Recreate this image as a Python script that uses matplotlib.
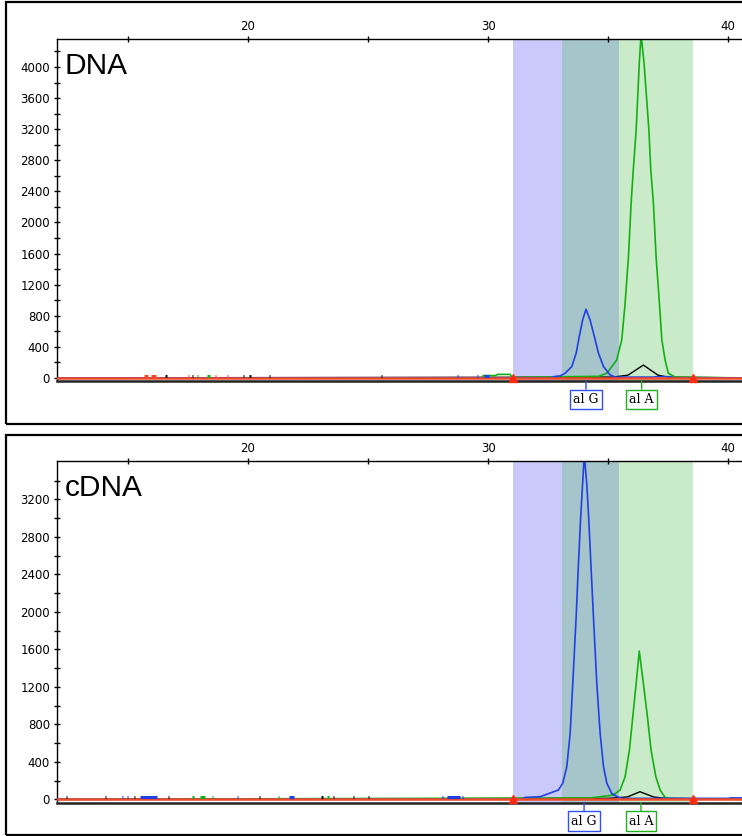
import matplotlib
matplotlib.use("Agg")
import matplotlib.pyplot as plt
from matplotlib.patches import Rectangle
from matplotlib.ticker import MultipleLocator, FixedLocator

# ---------------- data ----------------
panel_titles = ["DNA", "cDNA"]
x_major = [20, 30, 40]
x_minor = [15, 25, 35]
xlim = (12.04, 40.58)
ylims = [(-40, 4360), (-36, 3610)]
y_major_max = [4000, 3200]
y_minor_max = [4200, 3400]

# bins (allele windows)
bin_G = (31.04, 35.46)
bin_A = (33.08, 38.54)

# DNA panel traces
dna_blue_x = [12.04, 32.6, 32.8, 33.0, 33.21, 33.49, 33.67, 33.80, 33.94, 34.08,
              34.25, 34.43, 34.60, 34.81, 35.08, 35.3, 36.9, 37.0, 37.6, 37.7, 40.58]
dna_blue_y = [0, 0, 20, 25, 60, 146, 317, 531, 746, 883,
              746, 531, 317, 146, 39, 10, 10, 15, 15, 0, 0]
dna_green_x = [12.04, 29.75, 29.8, 30.3, 30.4, 30.92, 31.0, 33.3, 34.6, 34.95, 35.36,
               35.57, 35.71, 35.85, 35.96, 36.05, 36.17, 36.30, 36.375, 36.50,
               36.70, 36.78, 36.89, 37.0, 37.14, 37.24, 37.375, 37.51, 37.8, 40.58]
dna_green_y = [0, 0, 30, 30, 45, 45, 5, 15, 20, 60, 231,
               489, 960, 1561, 2247, 2675, 3190, 4048, 4420, 4048,
               3190, 2675, 2247, 1561, 960, 489, 231, 60, 10, 0]
dna_black_x = [12.04, 35.2, 35.83, 36.47, 37.08, 37.5, 40.58]
dna_black_y = [0, 10, 35, 165, 35, 10, 0]

# cDNA panel traces
cdna_blue_x = [12.04, 31.4, 31.54, 32.17, 32.93, 33.11, 33.28, 33.42, 33.53, 33.67,
               33.76, 33.86, 33.94, 34.01, 34.11, 34.19, 34.29, 34.39, 34.53,
               34.67, 34.81, 34.95, 35.15, 35.4, 35.6, 40.0, 40.1, 40.58]
cdna_blue_y = [0, 0, 20, 28, 99, 171, 348, 704, 1237, 1948,
               2481, 3015, 3371, 3680, 3371, 3015, 2481, 1948, 1237,
               704, 348, 171, 64, 25, 10, 10, 15, 15]
cdna_green_x = [12.04, 34.3, 35.22, 35.5, 35.71, 35.89, 36.03, 36.17, 36.30, 36.47,
                36.64, 36.79, 36.99, 37.17, 37.375, 37.6, 40.58]
cdna_green_y = [0, 15, 46, 99, 241, 526, 881, 1237, 1582, 1237,
                881, 526, 241, 99, 20, 10, 0]
cdna_black_x = [12.04, 35.0, 35.8, 36.33, 36.9, 37.4, 40.58]
cdna_black_y = [0, 10, 25, 81, 25, 10, 0]

# small baseline blips (start, end, colour)
dna_blip_start = [15.65, 15.95, 16.55, 17.48, 17.65, 17.86, 18.30, 18.61, 19.11, 19.77,
                  20.06, 20.86, 25.53, 28.69, 29.52, 29.85]
dna_blip_end = [15.85, 16.15, 16.62, 17.53, 17.70, 17.91, 18.42, 18.66, 19.16, 19.82,
                20.12, 20.91, 25.6, 28.76, 29.58, 30.05]
dna_blip_color = ["red", "red", "black", "red", "black", "green", "green", "red", "red", "black",
                  "black", "black", "black", "blue", "blue", "blue"]

cdna_blip_start = [12.40, 14.02, 14.73, 14.94, 15.23, 15.50, 16.65, 17.68, 18.0, 18.48,
                   19.52, 20.44, 21.23, 21.70, 23.06, 23.31, 23.52, 24.36, 24.98,
                   28.06, 28.30, 28.90]
cdna_blip_end = [12.46, 14.08, 14.79, 15.00, 15.29, 16.20, 16.71, 17.74, 18.2, 18.54,
                 19.58, 20.50, 21.29, 21.90, 23.12, 23.37, 23.58, 24.42, 25.04,
                 28.12, 28.83, 28.96]
cdna_blip_color = ["black", "black", "blue", "blue", "black", "blue", "black", "green", "green", "green",
                   "blue", "black", "green", "blue", "black", "green", "black", "black", "black",
                   "blue", "blue", "blue"]

label_text = ["al G", "al A"]
dna_label_x = [34.08, 36.40]
cdna_label_x = [34.00, 36.37]

# ---------------- styles ----------------
C_BLUE = "#2140e4"
C_GREEN = "#12b012"
C_BLACK = "#000000"
C_RED = "#f24a2a"
SPAN_BLUE = "#c9c9fb"
SPAN_TEAL = "#a5c5cb"
SPAN_GREEN = "#c9ebc9"
blip_colors = {"red": C_RED, "black": "#111111", "green": C_GREEN, "blue": C_BLUE}
label_colors = ["#3050f0", "#20b020"]

W, H = 742, 836
fig = plt.figure(figsize=(W / 100, H / 100), dpi=100)
fig.patch.set_facecolor("white")

# panel frames (pixels -> figure fraction)
for top_px, bot_px in [(2, 423.5), (435, 834.5)]:
    fig.add_artist(Rectangle((5.5 / W, (H - bot_px) / H), 1.2, (bot_px - top_px) / H,
                             transform=fig.transFigure, fill=False, ec="black", lw=1.6))

axes_px = [(39, 381), (461, 802.7)]
panels = [
    dict(blue=(dna_blue_x, dna_blue_y), green=(dna_green_x, dna_green_y),
         black=(dna_black_x, dna_black_y), bs=dna_blip_start, be=dna_blip_end,
         bc=dna_blip_color, lx=dna_label_x),
    dict(blue=(cdna_blue_x, cdna_blue_y), green=(cdna_green_x, cdna_green_y),
         black=(cdna_black_x, cdna_black_y), bs=cdna_blip_start, be=cdna_blip_end,
         bc=cdna_blip_color, lx=cdna_label_x),
]

for i, (p, (t_px, b_px)) in enumerate(zip(panels, axes_px)):
    ax = fig.add_axes([57 / W, (H - b_px) / H, (W - 57) / W, (b_px - t_px) / H])
    ax.set_xlim(*xlim)
    ax.set_ylim(*ylims[i])
    ax.set_facecolor("white")

    # bins
    ax.axvspan(bin_G[0], bin_A[0], color=SPAN_BLUE, lw=0, zorder=0)
    ax.axvspan(bin_A[0], bin_G[1], color=SPAN_TEAL, lw=0, zorder=0)
    ax.axvspan(bin_G[1], bin_A[1], color=SPAN_GREEN, lw=0, zorder=0)

    # traces
    ax.plot(*p["black"], color=C_BLACK, lw=1.0, zorder=2)
    ax.plot(*p["green"], color=C_GREEN, lw=1.2, zorder=2, clip_on=True)
    ax.plot(*p["blue"], color=C_BLUE, lw=1.2, zorder=2, clip_on=True)

    # baseline
    ax.axhline(0, color=C_RED, lw=1.8, zorder=3)

    # blips
    for s, e, c in zip(p["bs"], p["be"], p["bc"]):
        ax.plot([s, e], [20, 20], color=blip_colors[c], lw=2.2, solid_capstyle="butt", zorder=4)

    # bin edge triangles
    ax.plot([bin_G[0], bin_A[1]], [0, 0], ls="none", marker="^", ms=6,
            color="#ff2a10", mec="#ff2a10", zorder=5, clip_on=False)

    # title
    ax.text(0.011, 0.8977, panel_titles[i], transform=ax.transAxes, fontsize=21.5,
            family="Liberation Sans", va="baseline", ha="left", zorder=6)

    # allele labels
    for lx, txt, lc in zip(p["lx"], label_text, label_colors):
        ax.annotate(txt, xy=(lx, ylims[i][0]), xycoords="data",
                    xytext=(0, -13.2), textcoords="offset points",
                    ha="center", va="center", fontsize=9, family="DejaVu Serif",
                    bbox=dict(boxstyle="square,pad=0.25", fc="white", ec=lc, lw=1.0),
                    arrowprops=dict(arrowstyle="-", color=lc, lw=1.0, shrinkA=0, shrinkB=0),
                    annotation_clip=False, zorder=6)

    # spines
    ax.spines["right"].set_visible(False)
    ax.spines["left"].set_linewidth(1.0)
    ax.spines["top"].set_linewidth(1.0)
    ax.spines["bottom"].set_linewidth(1.8)
    ax.spines["bottom"].set_color("#222222")

    # x ticks on top
    ax.xaxis.tick_top()
    ax.xaxis.set_major_locator(FixedLocator(x_major))
    ax.xaxis.set_minor_locator(FixedLocator(x_minor))
    ax.set_xticklabels([str(v) for v in x_major])
    ax.tick_params(axis="x", which="both", direction="inout", length=4.5, width=1.0,
                   pad=2.0, labelsize=8.5, colors="black")

    # y ticks
    ax.yaxis.set_major_locator(FixedLocator(list(range(0, y_major_max[i] + 1, 400))))
    ax.yaxis.set_minor_locator(FixedLocator(list(range(200, y_minor_max[i] + 1, 400))))
    ax.tick_params(axis="y", which="both", direction="inout", length=5.0, width=1.0,
                   pad=2.5, labelsize=8.5, colors="black")
    for lab in ax.get_xticklabels() + ax.get_yticklabels():
        lab.set_family("DejaVu Sans")

fig.savefig("out.png", dpi=100)
